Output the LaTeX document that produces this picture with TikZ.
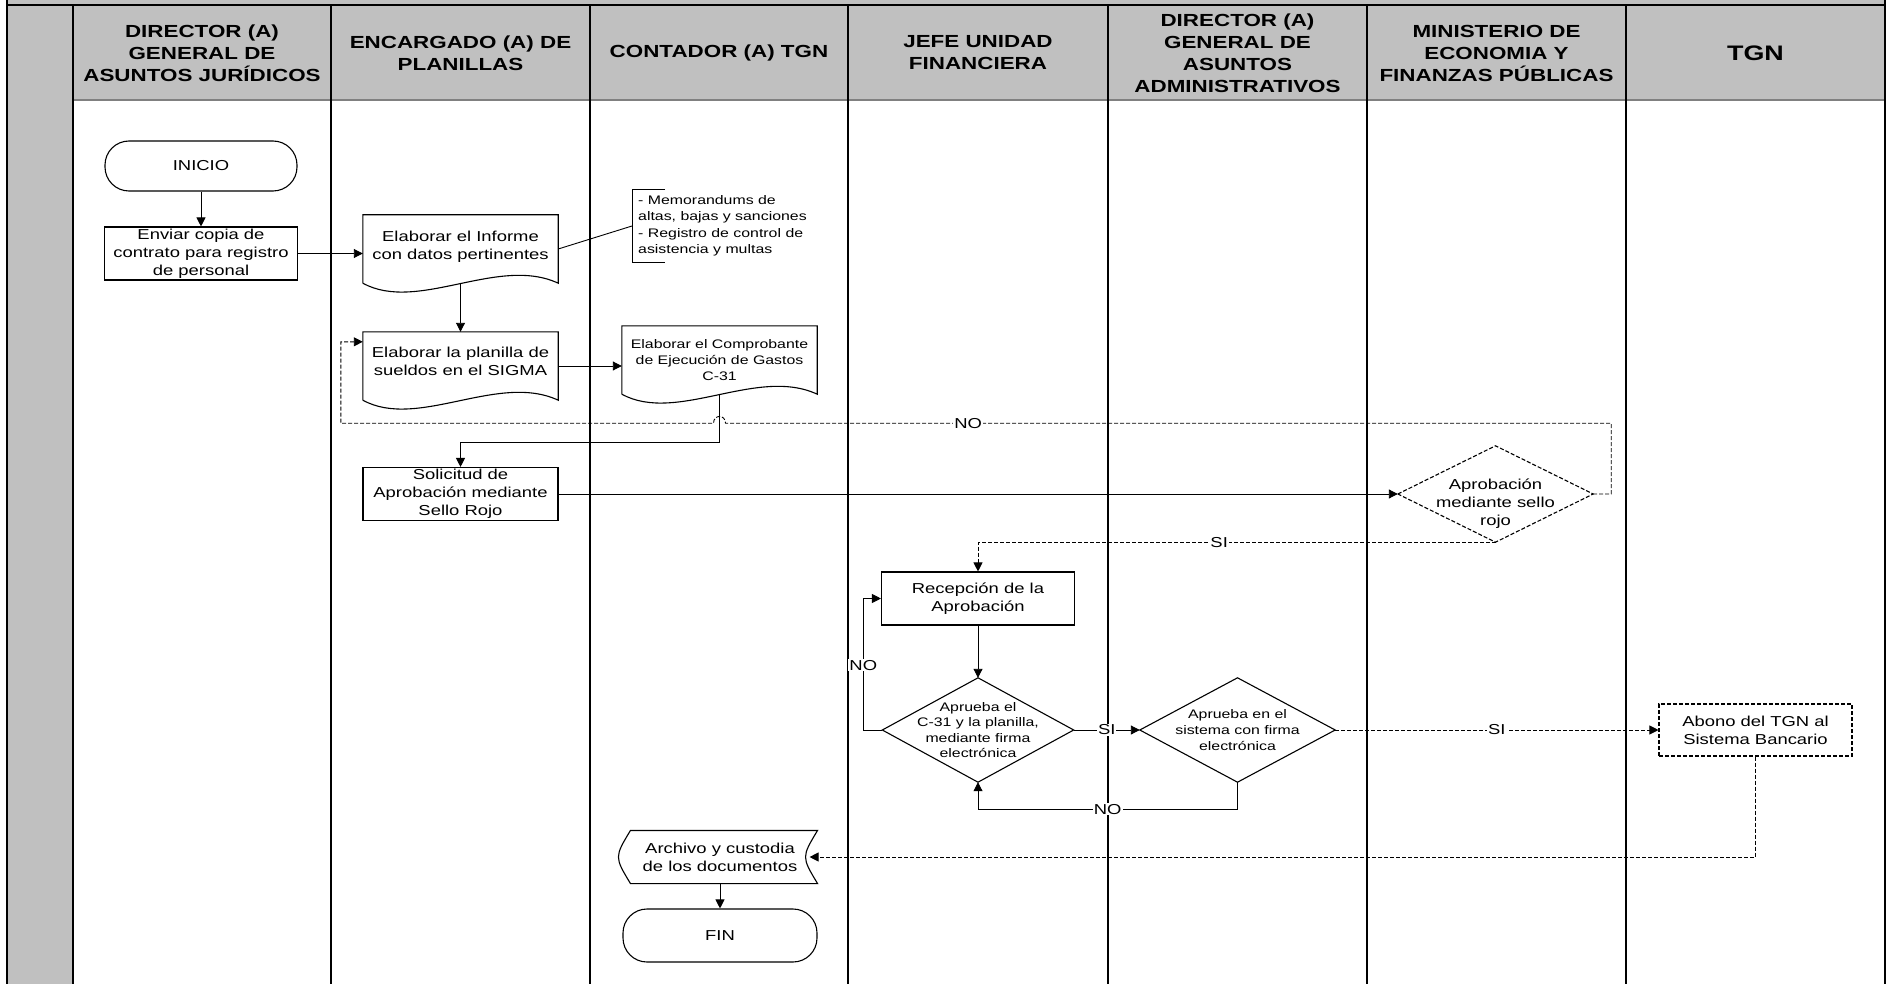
\documentclass[tikz,border=0pt]{standalone}
\usepackage{fontspec}
\setmainfont{Liberation Sans}[FakeStretch=1.28]
\usetikzlibrary{calc}
\usetikzlibrary{arrows.meta}
\definecolor{color_lane_head}{HTML}{C0C0C0}
\definecolor{color_lane_rule}{HTML}{808080}
\definecolor{color_lane_line}{HTML}{000000}
\definecolor{color_flow_line}{HTML}{000000}
\definecolor{color_flow_label_bg}{HTML}{FFFFFF}
\def\lanelinewidth{1.2pt}
\def\shapelinewidth{1.1pt}
\def\flowlinewidth{0.9pt}
\def\flowbodyfont{\fontsize{14.4}{18}\selectfont}
\def\flowsmallfont{\fontsize{12.4}{15.6}\selectfont}
\def\flownotefont{\fontsize{12.4}{16.5}\selectfont}
\def\laneheadfont{\fontsize{17.5}{22}\selectfont\bfseries}
\def\laneheadbigfont{\fontsize{21}{26}\selectfont\bfseries}
\def\flowdoc[#1](#2){
    \draw[#1] (#2.south west) -- (#2.north west) -- (#2.north east) -- (#2.south east)
        .. controls ($(#2.south east)+(-60,-28)$) and ($(#2.south west)+(55,30)$) .. (#2.south west);
}
\def\flowdecision[#1](#2){
    \draw[#1] (#2.west) -- (#2.north) -- (#2.east) -- (#2.south) -- cycle;
}
\def\flowstore[#1](#2){
    \draw[#1] ([xshift=8pt]#2.north west) -- (#2.north east)
        .. controls ([xshift=-16pt]#2.east) .. (#2.south east)
        -- ([xshift=8pt]#2.south west)
        .. controls ([xshift=-8pt]#2.west) .. ([xshift=8pt]#2.north west) -- cycle;
}
\def\flownote[#1](#2){
    \draw[#1] ([xshift=33pt]#2.north west) -- (#2.north west) -- (#2.south west) -- ([xshift=33pt]#2.south west);
}

\begin{document}
\begin{tikzpicture}[x=1pt,y=-1pt,
    box/.style={draw=color_flow_line,line width=\shapelinewidth,minimum width=193pt,minimum height=53pt,inner sep=1pt,align=center,font=\flowbodyfont},
    flowdashed/.style={dash pattern=on 4pt off 2pt},
    dashbox/.style={box,flowdashed},
    term/.style={box,minimum height=50pt,rounded corners=24pt},
    docnode/.style={minimum width=195pt,minimum height=68pt,inner sep=1pt,align=center,font=\flowbodyfont},
    decnode/.style={minimum width=195pt,minimum height=104pt,inner sep=0pt,align=center,font=\flowsmallfont},
    notenode/.style={minimum height=72pt,inner xsep=6pt,inner ysep=0pt,align=left,font=\flownotefont},
    lanehead/.style={align=center,font=\laneheadfont},
    shapeline/.style={line width=\shapelinewidth,color_flow_line},
    flow/.style={draw=color_flow_line,line width=\flowlinewidth,-{Triangle[length=9pt,width=9pt]}},
    dashflow/.style={flow,flowdashed},
    flowlabel/.style={fill=color_flow_label_bg,inner sep=1pt,font=\flowbodyfont}]
    \useasboundingbox (0,0) rectangle (1892,984);
    % pool and lanes
    \fill[color_lane_head] (7,0) rectangle (1885,100);
    \fill[color_lane_head] (7,100) rectangle (73,984);
    \draw[color_lane_rule,line width=2pt] (73,100) -- (1885,100);
    \draw[color_lane_line,line width=\lanelinewidth] (7,5) -- (1885,5);
    \foreach \x in {73,331,590,848,1108,1367,1626}
        \draw[color_lane_line,line width=\lanelinewidth] (\x,5) -- (\x,984);
    \draw[color_lane_line,line width=1.6pt] (7,0) -- (7,984);
    \draw[color_lane_line,line width=2pt] (1885,0) -- (1885,984);
    % lane titles
    \node[lanehead] (lane_juridicos) at (202,53) {DIRECTOR (A)\\GENERAL DE\\ASUNTOS JURÍDICOS};
    \node[lanehead] (lane_planillas) at (460.5,53) {ENCARGADO (A) DE\\PLANILLAS};
    \node[lanehead] (lane_contador) at (719,53) {CONTADOR (A) TGN};
    \node[lanehead] (lane_financiera) at (978,53) {JEFE UNIDAD\\FINANCIERA};
    \node[lanehead] (lane_administrativos) at (1237.5,53) {DIRECTOR (A)\\GENERAL DE\\ASUNTOS\\ADMINISTRATIVOS};
    \node[lanehead] (lane_ministerio) at (1496.5,53) {MINISTERIO DE\\ECONOMIA Y\\FINANZAS PÚBLICAS};
    \node[lanehead,font=\laneheadbigfont] (lane_tgn) at (1755.5,53) {TGN};
    % steps
    \node[term,minimum width=192pt] (inicio) at (201,166) {INICIO};
    \node[box] (enviar) at (201,253.5) {Enviar copia de\\contrato para registro\\de personal};
    \node[docnode] (informe) at (460.5,249) {Elaborar el Informe\\con datos pertinentes\\[-10pt]\mbox{}};
    \node[notenode,anchor=west] (soporte) at (632,226) {- Memorandums de\\altas, bajas y sanciones\\- Registro de control de\\asistencia y multas};
    \node[docnode] (planilla) at (460.5,366) {Elaborar la planilla de\\sueldos en el SIGMA\\[-8pt]\mbox{}};
    \node[docnode,font=\flowsmallfont] (cmpr) at (719.5,360) {Elaborar el Comprobante\\de Ejecución de Gastos\\C-31};
    \node[box,minimum width=195pt] (solicitud) at (460.5,494) {Solicitud de\\Aprobación mediante\\Sello Rojo};
    \node[decnode,minimum height=96pt,font=\flowbodyfont] (sello) at (1495.5,494) {\mbox{}\\[11pt]Aprobación\\mediante sello\\rojo};
    \node[box] (recepcion) at (978,598.5) {Recepción de la\\Aprobación};
    \node[decnode,minimum width=191pt] (firma_juf) at (978,730) {Aprueba el\\C-31 y la planilla,\\mediante firma\\electrónica};
    \node[decnode] (firma_dga) at (1237.5,730) {Aprueba en el\\sistema con firma\\electrónica};
    \node[dashbox,minimum height=52pt] (abono) at (1755.5,730) {Abono del TGN al\\Sistema Bancario};
    \node[box,draw=none,minimum width=194pt,minimum height=52pt] (archivo) at (720,857) {Archivo y custodia\\de los documentos};
    \node[term,minimum width=194pt,minimum height=53pt] (fin) at (720,935.5) {FIN};
    % outlines
    \flowdoc[shapeline](informe)
    \flowdoc[shapeline](planilla)
    \flowdoc[shapeline](cmpr)
    \flowdecision[shapeline,flowdashed](sello)
    \flowdecision[shapeline](firma_juf)
    \flowdecision[shapeline](firma_dga)
    \flowstore[shapeline](archivo)
    \flownote[color_flow_line,line width=\flowlinewidth](soporte)
    % connectors
    \draw[flow] (inicio) -- (enviar);
    \draw[flow] (enviar.east) -- (enviar.east -| informe.west);
    \draw[color_flow_line,line width=\flowlinewidth] (informe.east) -- (soporte.west);
    \draw[flow] (informe.south) -- (planilla.north);
    \draw[flow] (planilla.east) -- (planilla.east -| cmpr.west);
    \draw[flow] (cmpr.south) -- ++(0,48) -| (solicitud.north);
    \draw[flow] (solicitud.east) -- (sello.west);
    % refused seal goes back to the payroll
    \coordinate (hop) at ($(cmpr.south)+(0,29)$);
    \draw[dashflow] (sello.east) -- ++(18,0) |- node[flowlabel,pos=.863] (no_sello) {NO} ([xshift=6pt]hop)
        .. controls ([xshift=6pt,yshift=9pt]hop) and ([xshift=-6pt,yshift=9pt]hop) .. ([xshift=-6pt]hop)
        -| ($(planilla.north west)+(-22,10)$) -- ([yshift=-10pt]planilla.north west);
    \draw[dashflow] (sello.south) -| node[flowlabel,pos=.267] (si_sello) {SI} (recepcion.north);
    \draw[flow] (recepcion.south) -- (firma_juf.north);
    \draw[flow] (firma_juf.west) -- ++(-19,0) |- node[flowlabel,pos=.247] (no_juf) {NO} (recepcion.west);
    \draw[flow] (firma_juf.east) -- node[flowlabel] (si_juf) {SI} (firma_dga.west);
    \draw[flow] (firma_dga.south) -- ++(0,27) -| node[flowlabel,pos=.25] (no_dga) {NO} (firma_juf.south);
    \draw[dashflow] (firma_dga.east) -- node[flowlabel] (si_dga) {SI} (abono.west);
    \draw[dashflow] (abono.south) |- ([xshift=-8pt]archivo.east);
    \draw[flow] (archivo.south) -- (fin.north);
\end{tikzpicture}
\end{document}
